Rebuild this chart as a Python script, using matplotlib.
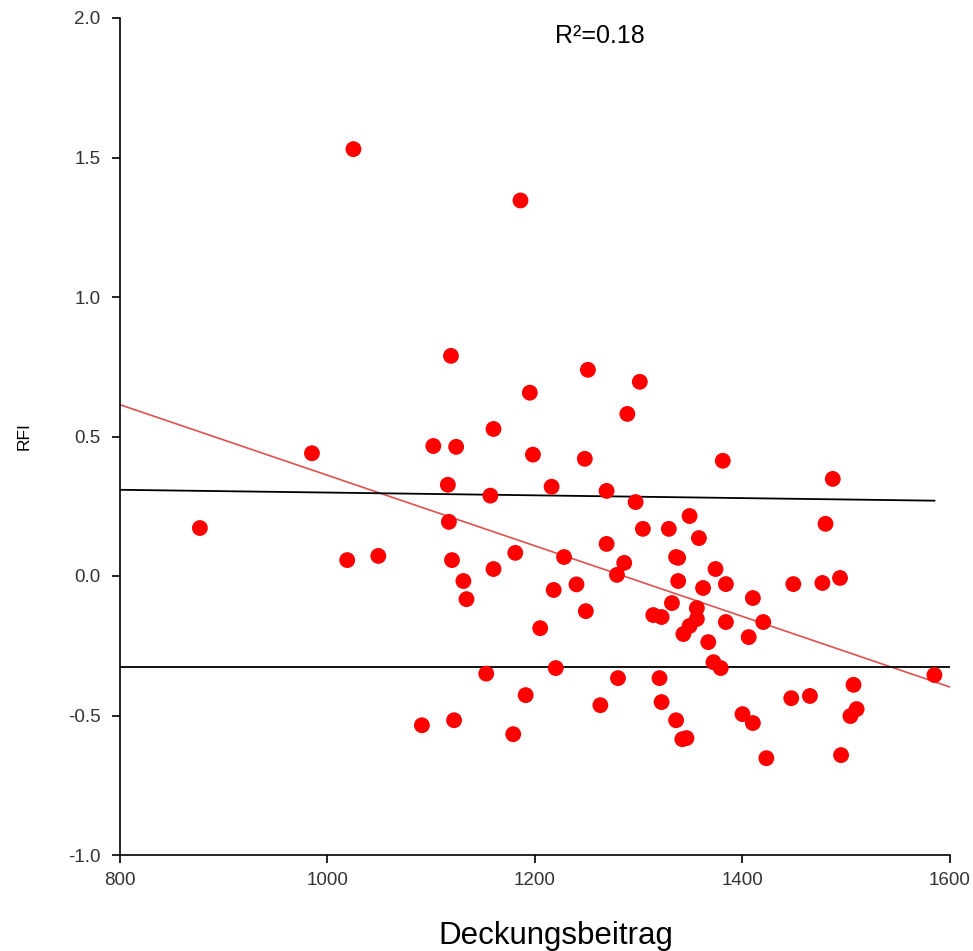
import matplotlib
matplotlib.use("Agg")
import matplotlib.pyplot as plt
import numpy as np

plt.rcParams['font.family'] = ['Liberation Sans', 'DejaVu Sans']

deckungsbeitrag = [877, 985, 1025, 1019, 1049, 1091, 1102, 1119, 1116, 1117, 1124, 1120, 1122, 1131, 1134,
                   1160, 1181, 1228, 1218, 1240, 1249, 1205, 1269, 1286, 1279, 1304, 1329, 1336, 1332,
                   1314, 1322, 1153, 1220, 1191, 1280, 1320, 1322, 1263, 1179, 1336, 1342,
                   1251, 1301, 1195, 1289, 1160, 1198, 1248, 1157, 1216, 1269, 1297, 1186,
                   1381, 1487, 1480, 1349, 1358, 1338, 1338, 1374, 1362, 1384, 1449, 1477, 1494, 1410,
                   1356, 1356, 1349, 1343, 1384, 1420, 1406, 1367, 1372, 1379, 1585, 1507, 1447, 1465,
                   1510, 1504, 1400, 1410, 1346, 1423, 1495]
rfi = [0.172, 0.44, 1.53, 0.057, 0.072, -0.535, 0.466, 0.789, 0.327, 0.194, 0.463, 0.057, -0.517, -0.018, -0.083,
       0.025, 0.083, 0.068, -0.05, -0.03, -0.126, -0.187, 0.115, 0.047, 0.004, 0.169, 0.169, 0.068, -0.097,
       -0.14, -0.147, -0.35, -0.33, -0.427, -0.366, -0.366, -0.452, -0.463, -0.567, -0.517, -0.585,
       0.739, 0.696, 0.657, 0.581, 0.527, 0.435, 0.42, 0.288, 0.32, 0.305, 0.265, 1.346,
       0.413, 0.348, 0.187, 0.215, 0.136, 0.065, -0.018, 0.025, -0.043, -0.029, -0.029, -0.025, -0.007, -0.079,
       -0.115, -0.154, -0.179, -0.208, -0.165, -0.165, -0.219, -0.237, -0.309, -0.33, -0.355, -0.39, -0.438, -0.43,
       -0.477, -0.502, -0.495, -0.527, -0.581, -0.653, -0.642]

fit_x = [800, 1600]
fit_y = [0.614, -0.398]
upper_x = [800, 1585]
upper_y = [0.309, 0.270]
lower_x = [800, 1600]
lower_y = [-0.327, -0.327]

x_ticks = [800, 1000, 1200, 1400, 1600]
y_ticks = [-1.0, -0.5, 0.0, 0.5, 1.0, 1.5, 2.0]
y_tick_labels = ['-1.0', '-0.5', '0.0', '0.5', '1.0', '1.5', '2.0']

fig = plt.figure(figsize=(9.73, 9.51), dpi=100)
ax = fig.add_axes([120/973, 1-855/951, 830/973, 837/951])

ax.scatter(deckungsbeitrag, rfi, s=130, color='#ff0000', edgecolors='none', zorder=3)
ax.plot(fit_x, fit_y, color='#e05050', lw=1.2, zorder=2)
ax.plot(upper_x, upper_y, color='black', lw=1.3, zorder=2)
ax.plot(lower_x, lower_y, color='black', lw=1.3, zorder=2)

ax.set_xlim(800, 1600)
ax.set_ylim(-1.0, 2.0)
ax.set_xticks(x_ticks)
ax.set_yticks(y_ticks)
ax.set_yticklabels(y_tick_labels)
for s in ['top', 'right']:
    ax.spines[s].set_visible(False)
for s in ['left', 'bottom']:
    ax.spines[s].set_color('black')
    ax.spines[s].set_linewidth(1.2)
ax.tick_params(direction='out', length=6, width=1.2, labelsize=13.5, labelcolor='#333333')
ax.tick_params(axis='y', pad=8)
ax.tick_params(axis='x', pad=6)

ax.set_xlabel('Deckungsbeitrag', fontsize=22.5, labelpad=23)
ax.xaxis.label.set_x(0.525)
ax.set_ylabel('RFI', fontsize=12.5, labelpad=26)
ax.text(0.578, 0.979, 'R²=0.18', transform=ax.transAxes, ha='center', va='center', fontsize=18)

fig.savefig('out.png', dpi=100)
